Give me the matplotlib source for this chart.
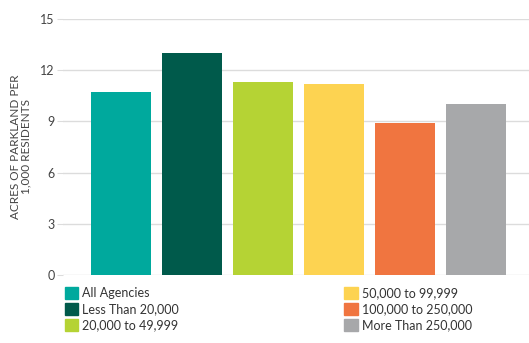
import numpy as np
import matplotlib.pyplot as plt
from matplotlib.patches import Patch

plt.rcParams['font.family'] = ['Lato', 'DejaVu Sans']

# acres of parkland per 1,000 residents by jurisdiction population
groups = ['All Agencies', 'Less Than 20,000', '20,000 to 49,999',
          '50,000 to 99,999', '100,000 to 250,000', 'More Than 250,000']
acres = [10.7, 13.0, 11.3, 11.2, 8.9, 10.0]
colors = ['#00A99D', '#005A4B', '#B5D334', '#FDD351', '#F07540', '#A7A8AA']
yticks = [0, 3, 6, 9, 12, 15]

fig = plt.figure(figsize=(5.29, 3.43), dpi=100)
ax = fig.add_axes([0.119, 0.198, 0.881, 0.747])

x = np.arange(len(groups))
ax.bar(x, acres, width=0.85, color=colors, zorder=2)

ax.set_xlim(-0.82, 5.75)
ax.set_ylim(0, 15)
ax.set_yticks(yticks)
ax.set_xticks([])
ax.grid(axis='y', color='#dcdcdc', linewidth=1, zorder=0)
for s in ax.spines.values():
    s.set_visible(False)
ax.tick_params(axis='y', length=4, color='#dcdcdc', labelsize=9, labelcolor='#444444', pad=2)
ax.set_ylabel('ACRES OF PARKLAND PER\n1,000 RESIDENTS', fontsize=8.5, color='#444444',
              linespacing=1.0, labelpad=6)

handles = [Patch(color=c) for c in colors]
opts = dict(loc='upper left', frameon=False, fontsize=9, handlelength=1.1, handleheight=1.1,
            handletextpad=0.3, labelspacing=0.3, borderaxespad=0, borderpad=0,
            labelcolor='#333333')
fig.legend(handles[:3], groups[:3], bbox_to_anchor=(0.122, 0.163), **opts)
fig.legend(handles[3:], groups[3:], bbox_to_anchor=(0.651, 0.163), **opts)

fig.savefig('out.png', dpi=100)
